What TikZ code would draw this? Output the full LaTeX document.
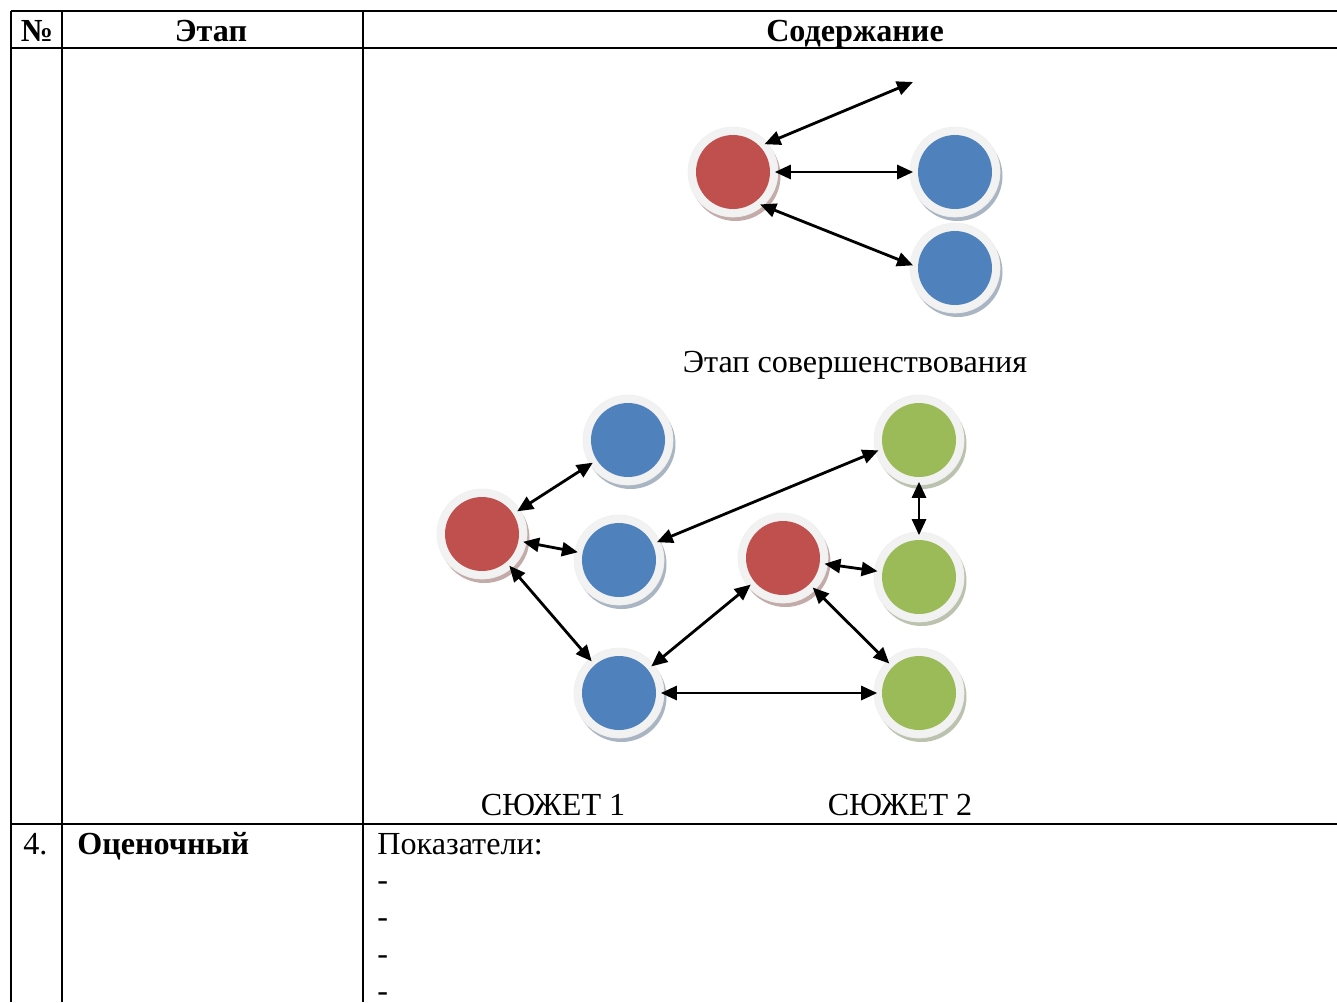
\documentclass[tikz,border=0pt]{standalone}
\usepackage{fontspec}
\setmainfont{Liberation Serif}
\usetikzlibrary{arrows.meta, shadows}

\definecolor{ringgray}{HTML}{F2F2F2}
\definecolor{redball}{HTML}{C0504D}
\definecolor{blueball}{HTML}{4F81BD}
\definecolor{greenball}{HTML}{9BBB59}

\tikzset{
  ball/.style={circle, fill=ringgray, draw=black!6, minimum size=1.8cm, inner sep=0pt,
    path picture={\fill[#1] (path picture bounding box.center) circle (0.74cm);},
    drop shadow={shadow xshift=0.05cm, shadow yshift=-0.08cm, fill=#1!55!black, opacity=0.4}},
  link/.style={{Triangle[length=0.32cm,width=0.28cm]}-{Triangle[length=0.32cm,width=0.28cm]}, line width=1.6pt, shorten <=-2pt, shorten >=-2pt},
  rule/.style={line width=1.2pt},
  txt/.style={font=\fontsize{18.3}{22}\selectfont, inner sep=0pt, anchor=base},
}

\begin{document}
\begin{tikzpicture}[x=0.02cm, y=-0.02cm]
        \useasboundingbox (0,0) rectangle (1337,1002);

        % table
        \draw[rule] (11,11) -- (1337,11);
        \draw[rule] (11,48) -- (1337,48);
        \draw[rule] (11,824) -- (1337,824);
        \draw[rule] (11,11) -- (11,1002);
        \draw[rule] (62,11) -- (62,1002);
        \draw[rule] (363,11) -- (363,1002);

        \node[txt, font=\fontsize{18.3}{22}\selectfont\bfseries] (hnum) at (37,41) {№};
        \node[txt, font=\fontsize{18.3}{22}\selectfont\bfseries] (hstage) at (211,41) {Этап};
        \node[txt, font=\fontsize{18.3}{22}\selectfont\bfseries] (hcont) at (855,41) {Содержание};

        % upper scheme
        \node[ball=redball] (r0) at (733,172) {};
        \node[ball=blueball] (b01) at (955,172) {};
        \node[ball=blueball] (b02) at (955,268) {};
        \coordinate (free) at (913,82);
        \draw[link, shorten >=0pt] (r0.40) -- (free);
        \draw[link] (r0) -- (b01);
        \draw[link] (r0.-48) -- (b02.175);

        \node[txt] (improve) at (855,372) {Этап совершенствования};

        % lower scheme
        \node[ball=redball] (r1) at (482,534) {};
        \node[ball=blueball] (b1) at (628,440) {};
        \node[ball=blueball] (b2) at (619,560) {};
        \node[ball=blueball] (b3) at (619,693) {};
        \node[ball=redball] (r2) at (783,558) {};
        \node[ball=greenball] (g1) at (919,440) {};
        \node[ball=greenball] (g2) at (919,577) {};
        \node[ball=greenball] (g3) at (919,693) {};

        \draw[link] (r1) -- (b1);
        \draw[link] (r1) -- (b2);
        \draw[link] (r1) -- (b3);
        \draw[link] (b2.25) -- (g1.195);
        \draw[link] (g1) -- (g2);
        \draw[link] (r2) -- (g2);
        \draw[link] (r2) -- (b3);
        \draw[link] (r2) -- (g3);
        \draw[link] (b3) -- (g3);

        \node[txt] (plot1) at (553,815) {СЮЖЕТ 1};
        \node[txt] (plot2) at (900,815) {СЮЖЕТ 2};

        % row 4
        \node[txt, anchor=base west] (num4) at (23,854) {4.};
        \node[txt, anchor=base west, font=\fontsize{18.3}{22}\selectfont\bfseries] (stage4) at (77,854) {Оценочный};
        \node[txt, anchor=base west] (indic) at (377,854) {Показатели:};
        \foreach \k in {0,1,2,3}
            \node[txt, anchor=base west, text depth=0pt] (dash\k) at (377,890+37*\k) {-};
\end{tikzpicture}
\end{document}
